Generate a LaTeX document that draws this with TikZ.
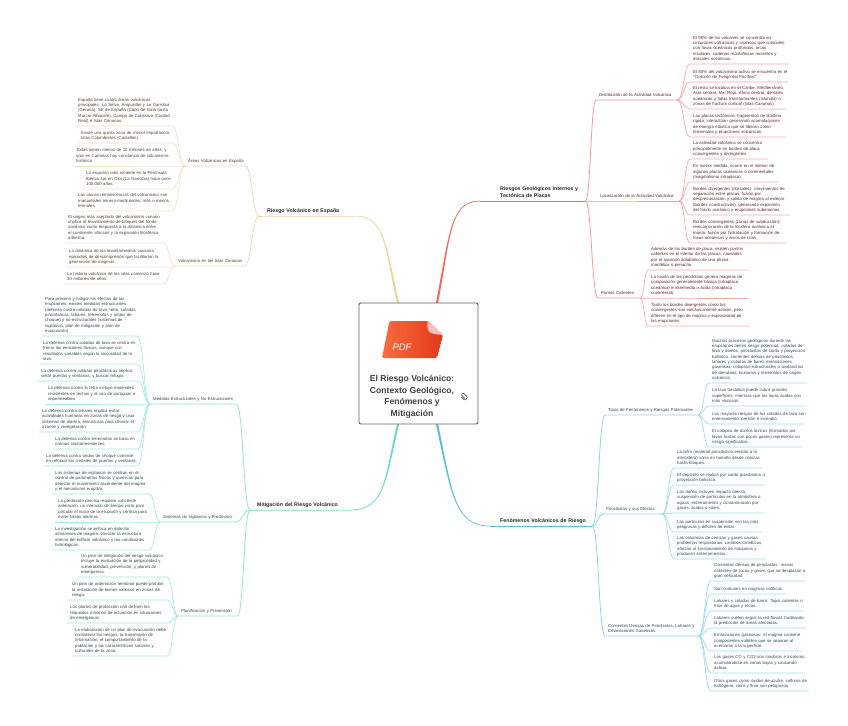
\documentclass[tikz,border=0pt]{standalone}
\usepackage{fontspec}
\setmainfont{Liberation Sans}
\usetikzlibrary{calc}

\definecolor{redmain}{HTML}{F2695F}
\definecolor{redsub}{HTML}{F59A92}
\definecolor{redleaf}{HTML}{F6A9A1}
\definecolor{redtext}{HTML}{5C2626}
\definecolor{bluemain}{HTML}{5CBFD2}
\definecolor{bluesub}{HTML}{8AD4E2}
\definecolor{blueleaf}{HTML}{9CDCE8}
\definecolor{bluetext}{HTML}{2E4A50}
\definecolor{tealmain}{HTML}{6CDAC4}
\definecolor{tealsub}{HTML}{92E4D4}
\definecolor{tealleaf}{HTML}{A4E9DC}
\definecolor{tealtext}{HTML}{2C4A44}
\definecolor{sandmain}{HTML}{E6D59B}
\definecolor{sandsub}{HTML}{EBDDAF}
\definecolor{sandleaf}{HTML}{EEE3BF}
\definecolor{sandtext}{HTML}{4A4226}
\definecolor{pdfleft}{HTML}{F96B3E}
\definecolor{pdfright}{HTML}{E23A1B}

\tikzset{
  leaf/.style={anchor=south west,inner xsep=3pt,inner ysep=2.1pt,align=left,
    execute at begin node={\rightskip=-15pt plus 1fil},
    execute at end node={\rule[-1.1pt]{0pt}{1pt}},
    font=\fontsize{4.3}{5.33}\selectfont},
  head/.style={leaf,font=\fontsize{5.25}{7}\selectfont\bfseries,text=black!85},
  redl/.style={leaf,text=redtext},
  bluel/.style={leaf,text=bluetext},
  teall/.style={leaf,text=tealtext},
  sandl/.style={leaf,text=sandtext},
  sublink/.style={line width=0.8pt,line join=round},
  leaflink/.style={line width=0.7pt,line join=round},
}

% enlace hacia la derecha / izquierda: curva y subrayado
\newcommand{\linkR}[3]{
  \coordinate (m) at ($(#2)!.5!(#3.south west)$);
  \draw[#1] (#2) .. controls (#2 -| m) and (#3.south west -| m) .. (#3.south west) -- (#3.south east);
}
\newcommand{\linkL}[3]{
  \coordinate (m) at ($(#2)!.5!(#3.south east)$);
  \draw[#1] (#2) .. controls (#2 -| m) and (#3.south east -| m) .. (#3.south east) -- (#3.south west);
}
% rama principal, mas gruesa junto al recuadro
\newcommand{\mainlink}[6]{
  \fill[#1] ($(#2)+(-1.1,0)$) .. controls ($(#3)+(-.8,0)$) and ($(#4)+(0,#6*.45)$) .. ($(#5)+(0,#6*.35)$)
    -- ($(#5)-(0,#6*.35)$) .. controls ($(#4)-(0,#6*.45)$) and ($(#3)+(.8,0)$) .. ($(#2)+(1.1,0)$) -- cycle;
}

\begin{document}
\begin{tikzpicture}[x=1pt,y=-1pt]
\useasboundingbox (0,0) rectangle (848,725);

% recuadro central
\coordinate (rootne) at (437,303);
\coordinate (rootnw) at (398,303);
\coordinate (rootse) at (437,424);
\coordinate (rootsw) at (398,424);

% Riesgos geologicos
\node[head,text width=82pt] (riesgos) at (497,201) {Riesgos Geológicos Internos y\\Tectónica de Placas};
\mainlink{redmain}{rootne}{450,235}{450,201}{480,201}{-1}
\draw[sublink,redmain] (480,201) -- (riesgos.south east);

\node[redl,text width=75pt] (dist) at (596,100) {Distribución de la Actividad Volcánica};
\node[redl,text width=76pt] (locz) at (597,201) {Localización de la Actividad Volcánica};
\node[redl,text width=36pt] (puntos) at (598,298) {Puntos Calientes};
\linkR{sublink,redsub}{riesgos.south east}{dist}
\linkR{sublink,redsub}{riesgos.south east}{locz}
\linkR{sublink,redsub}{riesgos.south east}{puntos}

\node[redl,text width=93pt] (d1) at (690,64) {El 95\% de los volcanes se concentra en\\cinturones volcánicos y sísmicos que coinciden\\con fosas oceánicas profundas, arcos\\insulares, cadenas montañosas recientes y\\dorsales oceánicas.};
\node[redl,text width=92pt] (d2) at (690,82) {El 80\% del volcanismo activo se encuentra en el\\"Cinturón de Fuego del Pacífico".};
\node[redl,text width=89pt] (d3) at (690,109) {El resto se localiza en el Caribe, Mediterráneo,\\Asia central, Mar Rojo, África central, dorsales\\oceánicas y fallas transformantes (Islandia) o\\zonas de fractura cortical (Islas Canarias).};
\node[redl,text width=90pt] (d4) at (690,137) {Las placas tectónicas, fragmentos de litosfera\\rígida, interactúan generando acumulaciones\\de energía elástica que se liberan como\\terremotos y erupciones volcánicas.};
\linkR{leaflink,redleaf}{dist.south east}{d1}
\linkR{leaflink,redleaf}{dist.south east}{d2}
\linkR{leaflink,redleaf}{dist.south east}{d3}
\linkR{leaflink,redleaf}{dist.south east}{d4}

\node[redl,text width=71pt] (l1) at (690,159) {La actividad volcánica se concentra\\principalmente en bordes de placa\\convergentes y divergentes.};
\node[redl,text width=82pt] (l2) at (690,182) {En menor medida, ocurre en el interior de\\algunas placas oceánicas o continentales\\(magmatismo intraplaca).};
\node[redl,text width=93pt] (l3) at (690,215) {Bordes divergentes (dorsales): movimientos de\\separación entre placas, fusión por\\despresurización y salida de magma al exterior\\(bordes constructivos), generando expansión\\del fondo oceánico y erupciones submarinas.};
\node[redl,text width=89pt] (l4) at (690,243) {Bordes convergentes (zonas de subducción):\\reincorporación de la litosfera oceánica al\\manto, fusión por hidratación y formación de\\fosas oceánicas y arcos de islas.};
\linkR{leaflink,redleaf}{locz.south east}{l1}
\linkR{leaflink,redleaf}{locz.south east}{l2}
\linkR{leaflink,redleaf}{locz.south east}{l3}
\linkR{leaflink,redleaf}{locz.south east}{l4}

\node[redl,text width=94pt] (u1) at (648,270) {Además de los bordes de placa, existen puntos\\calientes en el interior de las placas, causados\\por el ascenso adiabático de una pluma\\mantélica o penacho.};
\node[redl,text width=94pt] (u2) at (648,298) {La fusión de las peridotitas genera magmas de\\composición generalmente básica (intraplaca\\oceánica) e intermedia o ácida (intraplaca\\continental).};
\node[redl,text width=95pt] (u3) at (648,326) {Tanto los bordes divergentes como los\\convergentes son volcánicamente activos, pero\\difieren en el tipo de magma y explosividad de\\las erupciones.};
\linkR{leaflink,redleaf}{puntos.south east}{u1}
\linkR{leaflink,redleaf}{puntos.south east}{u2}
\linkR{leaflink,redleaf}{puntos.south east}{u3}

% Fenomenos volcanicos
\node[head,text width=89pt] (fenom) at (497,526) {Fenómenos Volcánicos de Riesgo};
\mainlink{bluemain}{rootse}{452,495}{455,526}{490,526}{1}
\draw[sublink,bluemain] (490,526) -- (fenom.south east);

\node[bluel,text width=87pt] (tipos) at (605,415) {Tipos de Fenómenos y Riesgos Potenciales};
\node[bluel,text width=53pt] (piro) at (603,514) {Piroclastos y sus Efectos};
\node[bluel,text width=87pt] (corr) at (605,636) {Corrientes Densas de Piroclastos, Lahares y\\Emanaciones Gaseosas.};
\linkR{sublink,bluesub}{fenom.south east}{tipos}
\linkR{sublink,bluesub}{fenom.south east}{piro}
\linkR{sublink,bluesub}{fenom.south east}{corr}

\node[bluel,text width=92pt] (t1) at (709,383) {Muchos procesos geológicos durante las\\erupciones tienen riesgo potencial: coladas de\\lava y domos, piroclastos de caída y proyección\\balística, corrientes densas de piroclastos,\\lahares y coladas de barro, emanaciones\\gaseosas, colapsos estructurales o avalanchas\\de derrubios, tsunamis y terremotos de origen\\volcánico.};
\node[bluel,text width=92pt] (t2) at (709,406) {La lava basáltica puede cubrir grandes\\superficies, mientras que las lavas ácidas son\\más viscosas.};
\node[bluel,text width=89pt] (t3) at (709,424) {Los mayores riesgos de las coladas de lava son\\enterramiento, presión e incendio.};
\node[bluel,text width=87pt] (t4) at (709,447) {El colapso de domos lávicos (formados por\\lavas ácidas con pocos gases) representa un\\riesgo significativo.};
\linkR{leaflink,blueleaf}{tipos.south east}{t1}
\linkR{leaflink,blueleaf}{tipos.south east}{t2}
\linkR{leaflink,blueleaf}{tipos.south east}{t3}
\linkR{leaflink,blueleaf}{tipos.south east}{t4}

\node[bluel,text width=82pt] (e1) at (674,468) {La tefra (material piroclástico emitido a la\\atmósfera) varía en tamaño desde cenizas\\hasta bloques.};
\node[bluel,text width=86pt] (e2) at (674,485) {El depósito se realiza por caída gravitatoria o\\proyección balística.};
\node[bluel,text width=83pt] (e3) at (674,513) {Los daños incluyen impacto directo,\\suspensión de partículas en la atmósfera o\\aguas, enterramiento y contaminación por\\gases, ácidos o sales.};
\node[bluel,text width=81pt] (e4) at (674,532) {Las partículas en suspensión son las más\\peligrosas y difíciles de evitar.};
\node[bluel,text width=86pt] (e5) at (674,559) {Las columnas de cenizas y gases causan\\problemas respiratorios, cambios climáticos,\\afectan al funcionamiento de máquinas y\\producen enterramientos.};
\linkR{leaflink,blueleaf}{piro.south east}{e1}
\linkR{leaflink,blueleaf}{piro.south east}{e2}
\linkR{leaflink,blueleaf}{piro.south east}{e3}
\linkR{leaflink,blueleaf}{piro.south east}{e4}
\linkR{leaflink,blueleaf}{piro.south east}{e5}

\node[bluel,text width=89pt] (g1) at (711,581) {Corrientes densas de piroclastos: masas\\calientes de rocas y gases que se desplazan a\\gran velocidad.};
\node[bluel,text width=68pt] (g2) at (711,594) {Son comunes en magmas riolíticos.};
\node[bluel,text width=86pt] (g3) at (711,611) {Lahares y coladas de barro: flujos calientes o\\fríos de agua y rocas.};
\node[bluel,text width=89pt] (g4) at (711,628) {Lahares suelen seguir la red fluvial, facilitando\\la predicción de áreas afectadas.};
\node[bluel,text width=85pt] (g5) at (711,651) {Emanaciones gaseosas: el magma contiene\\componentes volátiles que se separan al\\acercarse a la superficie.};
\node[bluel,text width=88pt] (g6) at (711,673) {Los gases CO y CO2 son inodoros e incoloros,\\acumulándose en zonas bajas y causando\\asfixia.};
\node[bluel,text width=92pt] (g7) at (711,691) {Otros gases como óxidos de azufre, sulfuros de\\hidrógeno, cloro y flúor son peligrosos.};
\linkR{leaflink,blueleaf}{corr.south east}{g1}
\linkR{leaflink,blueleaf}{corr.south east}{g2}
\linkR{leaflink,blueleaf}{corr.south east}{g3}
\linkR{leaflink,blueleaf}{corr.south east}{g4}
\linkR{leaflink,blueleaf}{corr.south east}{g5}
\linkR{leaflink,blueleaf}{corr.south east}{g6}
\linkR{leaflink,blueleaf}{corr.south east}{g7}

% Riesgo volcanico en Espana
\node[head,text width=85pt] (espana) at (264,216) {Riesgo Volcánico en España};
\mainlink{sandmain}{rootnw}{385,245}{385,216}{355,216}{1}
\draw[sublink,sandmain] (355,216) -- (espana.south west) -- (259,216);
\coordinate (espbr) at (259,216);

\node[sandl,text width=54pt] (areas) at (185,166) {Áreas Volcánicas en España};
\node[sandl,text width=63pt] (canar) at (175,266) {Volcanismo en las Islas Canarias};
\linkL{sublink,sandsub}{espbr}{areas}
\linkL{sublink,sandsub}{espbr}{canar}

\node[sandl,text width=91pt] (a1) at (75,126) {España tiene cuatro áreas volcánicas\\principales: La Selva, Ampurdán y La Garrotxa\\(Gerona), SE de España (Cabo de Gata hasta\\Murcia-Albacete), Campo de Calatrava (Ciudad\\Real) e Islas Canarias.};
\node[sandl,text width=88pt] (a2) at (78,143) {Existe una quinta zona de menor importancia:\\Islas Columbretes (Castellón).};
\node[sandl,text width=106pt] (a3) at (73,166) {Todas tienen menos de 10 millones de años, y\\solo en Canarias hay constancia de volcanismo\\histórico.};
\node[sandl,text width=83pt] (a4) at (83,189) {La erupción más reciente en la Península\\Ibérica fue en Olot (La Garrotxa) hace unos\\100.000 años.};
\node[sandl,text width=91pt] (a5) at (75,211) {Las únicas reminiscencias del volcanismo son\\manantiales minero-medicinales, más o menos\\termales.};
\linkL{leaflink,sandleaf}{areas.south west}{a1}
\linkL{leaflink,sandleaf}{areas.south west}{a2}
\linkL{leaflink,sandleaf}{areas.south west}{a3}
\linkL{leaflink,sandleaf}{areas.south west}{a4}
\linkL{leaflink,sandleaf}{areas.south west}{a5}

\node[sandl,text width=92pt] (c1) at (65,243) {El origen más aceptado del volcanismo canario\\implica el levantamiento de bloques del fondo\\oceánico como respuesta a la dinámica entre\\el continente africano y la expansión litosférica\\atlántica.};
\node[sandl,text width=103pt] (c2) at (66,267) {La dinámica de los levantamientos causaría\\episodios de descompresión que facilitarían la\\generación de magmas.};
\node[sandl,text width=93pt] (c3) at (64,284) {La historia volcánica de las islas comenzó hace\\30 millones de años.};
\linkL{leaflink,sandleaf}{canar.south west}{c1}
\linkL{leaflink,sandleaf}{canar.south west}{c2}
\linkL{leaflink,sandleaf}{canar.south west}{c3}

% Mitigacion del riesgo
\node[head,text width=88pt] (mitig) at (254,510) {Mitigación del Riesgo Volcánico};
\mainlink{tealmain}{rootsw}{385,480}{385,510}{350,510}{-1}
\draw[sublink,tealmain] (350,510) -- (mitig.south west) -- (250,510);
\coordinate (mitbr) at (250,510);

\node[teall,text width=80pt] (medidas) at (150,404) {Medidas Estructurales y No Estructurales};
\node[teall,text width=69pt] (vigil) at (160,522) {Sistemas de Vigilancia y Predicción};
\node[teall,text width=53pt] (plan) at (178,616) {Planificación y Prevención};
\linkL{sublink,tealsub}{mitbr}{medidas}
\linkL{sublink,tealsub}{mitbr}{vigil}
\linkL{sublink,tealsub}{mitbr}{plan}

\node[teall,text width=89pt] (m1) at (42,336) {Para prevenir y mitigar los efectos de las\\erupciones, existen medidas estructurales\\(defensa contra coladas de lava, tefra, coladas\\piroclásticas, lahares, terremotos y ondas de\\choque) y no-estructurales (sistemas de\\vigilancia, plan de mitigación y plan de\\evacuación).};
\node[teall,text width=91pt] (m2) at (40,364) {La defensa contra coladas de lava se centra en\\frenar las emisiones lávicas, aunque con\\resultados variables según la viscosidad de la\\lava.};
\node[teall,text width=93pt] (m3) at (38,381) {La defensa contra coladas piroclásticas implica\\sellar puertas y ventanas, y buscar refugio.};
\node[teall,text width=99pt] (m4) at (45,404) {La defensa contra la tefra incluye materiales\\resistentes en techos y el uso de paraguas e\\impermeables.};
\node[teall,text width=92pt] (m5) at (39,432) {La defensa contra lahares implica evitar\\actividades humanas en zonas de riesgo y usar\\sistemas de alarma, estructuras para desviar el\\avance y revegetación.};
\node[teall,text width=79pt] (m6) at (52,449) {La defensa contra terremotos se basa en\\normas sismorresistentes.};
\node[teall,text width=88pt] (m7) at (43,466) {La defensa contra ondas de choque consiste\\en reforzar los cristales de puertas y ventanas.};
\linkL{leaflink,tealleaf}{medidas.south west}{m1}
\linkL{leaflink,tealleaf}{medidas.south west}{m2}
\linkL{leaflink,tealleaf}{medidas.south west}{m3}
\linkL{leaflink,tealleaf}{medidas.south west}{m4}
\linkL{leaflink,tealleaf}{medidas.south west}{m5}
\linkL{leaflink,tealleaf}{medidas.south west}{m6}
\linkL{leaflink,tealleaf}{medidas.south west}{m7}

\node[teall,text width=91pt] (v1) at (52,494) {Los sistemas de vigilancia se centran en el\\control de parámetros físicos y químicos para\\detectar el movimiento ascendente del magma\\y el mecanismo eruptivo.};
\node[teall,text width=99pt] (v2) at (55,522) {La predicción precisa requiere suficiente\\antelación, un intervalo de tiempo corto para\\calcular el inicio de la erupción y certeza para\\evitar falsas alarmas.};
\node[teall,text width=91pt] (v3) at (52,550) {La investigación se enfoca en detectar\\almacenes de magma, conocer la estructura\\interna del edificio volcánico y las condiciones\\hidrológicas.};
\linkL{leaflink,tealleaf}{vigil.south west}{v1}
\linkL{leaflink,tealleaf}{vigil.south west}{v2}
\linkL{leaflink,tealleaf}{vigil.south west}{v3}

\node[teall,text width=83pt] (p1) at (78,577) {Un plan de mitigación del riesgo volcánico\\incluye la evaluación de la peligrosidad y\\vulnerabilidad, prevención, y planes de\\emergencia.};
\node[teall,text width=92pt] (p2) at (69,600) {Un plan de ordenación territorial puede prohibir\\la instalación de bienes valiosos en zonas de\\riesgo.};
\node[teall,text width=94pt] (p3) at (67,623) {Los planes de protección civil definen los\\requisitos mínimos de actuación en situaciones\\de emergencia.};
\node[teall,text width=89pt] (p4) at (72,656) {La elaboración de un plan de evacuación debe\\considerar los riesgos, la transmisión de\\información, el comportamiento de la\\población y las características sociales y\\culturales de la zona.};
\linkL{leaflink,tealleaf}{plan.south west}{p1}
\linkL{leaflink,tealleaf}{plan.south west}{p2}
\linkL{leaflink,tealleaf}{plan.south west}{p3}
\linkL{leaflink,tealleaf}{plan.south west}{p4}

% recuadro e icono
\node[draw=black!62,fill=white,line width=0.9pt,rounded corners=2pt,minimum width=119pt,minimum height=121pt,inner sep=0pt] (root) at (418.5,363.5) {};
\shade[left color=pdfleft,right color=pdfright,rounded corners=1.5pt]
  (382,358) -- (389.5,321) -- (428,321) -- (443,335) -- (437,358) -- cycle;
\fill[red!25!white] (428,321) .. controls (426,328) and (428,333) .. (434,334) -- (443,335) -- cycle;
\node[text=white,font=\fontsize{9.5}{10}\selectfont\itshape,inner sep=0pt] (pdf) at (402,347) {PDF};
\node[font=\fontsize{8.6}{11.5}\selectfont\bfseries,text=black!75,align=center,inner sep=0pt] (title) at (412,397) {El Riesgo Volcánico:\\Contexto Geológico,\\Fenómenos y\\Mitigación};
\draw[black!65,line width=0.7pt,line cap=round,shift={(464,396)},rotate=45]
  (-1.1,2.2) -- (-1.1,-2) .. controls (-1.1,-3.4) and (1.6,-3.4) .. (1.6,-2) -- (1.6,2.4)
  .. controls (1.6,4.2) and (-2.6,4.2) .. (-2.6,2.4) -- (-2.6,-1.5);
\end{tikzpicture}
\end{document}
